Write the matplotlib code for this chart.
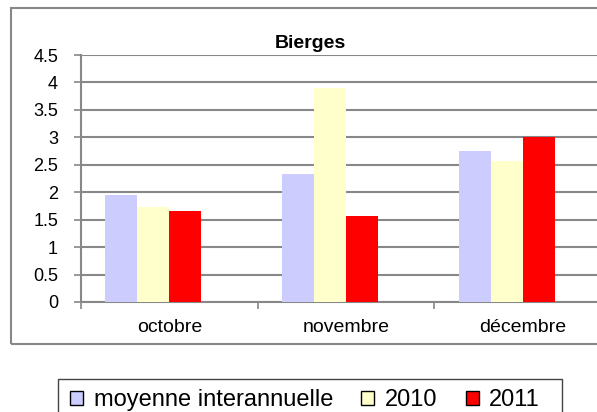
import numpy as np
import matplotlib
matplotlib.use("Agg")
import matplotlib.pyplot as plt
from matplotlib.patches import Rectangle, Patch

# ======================
# données
# ======================
mois = ["octobre", "novembre", "décembre"]
moyenne = [1.95, 2.33, 2.75]
annee_2010 = [1.73, 3.90, 2.56]
annee_2011 = [1.65, 1.57, 3.00]
series = ["moyenne interannuelle", "2010", "2011"]
couleurs = ["#CCCCFF", "#FFFFCC", "#FF0000"]
yticks = [0, 0.5, 1, 1.5, 2, 2.5, 3, 3.5, 4, 4.5]

plt.rcParams['font.family'] = ['Liberation Sans', 'DejaVu Sans']

W, H = 597, 412
fig = plt.figure(figsize=(W / 100, H / 100), dpi=100)


def px(x, y):
    return x / W, 1 - y / H


# cadre du graphique (depasse a droite comme l'original)
x0, y0 = px(11, 8)
x1, y1 = px(611, 344)
fig.patches.append(Rectangle((x0, y1), x1 - x0, y0 - y1, transform=fig.transFigure,
                             fill=False, edgecolor="#888888", lw=1.5, clip_on=False))

ax_l, ax_t = px(81, 55)
ax_r, ax_b = px(611, 302)
ax = fig.add_axes([ax_l, ax_b, ax_r - ax_l, ax_t - ax_b])

# les groupes sont decales d'une demi-barre vers la gauche dans l'original
x = np.arange(len(mois))
w = 0.181
for i, (vals, c) in enumerate(zip([moyenne, annee_2010, annee_2011], couleurs)):
    ax.bar(x + (i - 1.5) * w, vals, width=w, color=c, zorder=3)

ax.set_xlim(-0.5, 2.5)
ax.set_ylim(0, 4.5)
ax.set_yticks(yticks)
ax.set_yticklabels([f"{v:g}" for v in yticks], fontsize=13)
ax.yaxis.grid(True, color="#888888", lw=1.5, zorder=0)
ax.set_axisbelow(True)

ax.set_xticks([-0.5, 0.5, 1.5, 2.5])
ax.set_xticklabels([])
ax.set_xticks(x, minor=True)
ax.set_xticklabels(mois, minor=True, fontsize=14)
ax.tick_params(axis="x", which="major", length=5, width=1.2, color="#888888", direction="out")
ax.tick_params(axis="x", which="minor", length=0, pad=12)
ax.tick_params(axis="y", length=5, width=1.2, color="#888888", pad=11.5)

for s in ["top", "right"]:
    ax.spines[s].set_visible(False)
for s in ["left", "bottom"]:
    ax.spines[s].set_color("#888888")
    ax.spines[s].set_linewidth(1.5)

tx, ty = px(310, 44)
fig.text(tx, ty, "Bierges", ha="center", va="center", fontsize=14, fontweight="bold")

# legende
lx0, ly0 = px(58, 379)
lx1, ly1 = px(562, 420)
fig.patches.append(Rectangle((lx0, ly1), lx1 - lx0, ly0 - ly1, transform=fig.transFigure,
                             fill=False, edgecolor="#444444", lw=1.0, clip_on=False))
handles = [Patch(facecolor=c, edgecolor="black", lw=1.0) for c in couleurs]
lgx, lgy = px(305, 400)
fig.legend(handles, series, loc="center", bbox_to_anchor=(lgx, lgy), ncol=3,
           frameon=False, fontsize=17, handlelength=0.55, handleheight=0.55,
           handletextpad=0.45, columnspacing=1.2, borderpad=0)

fig.savefig("out.png", dpi=100)
